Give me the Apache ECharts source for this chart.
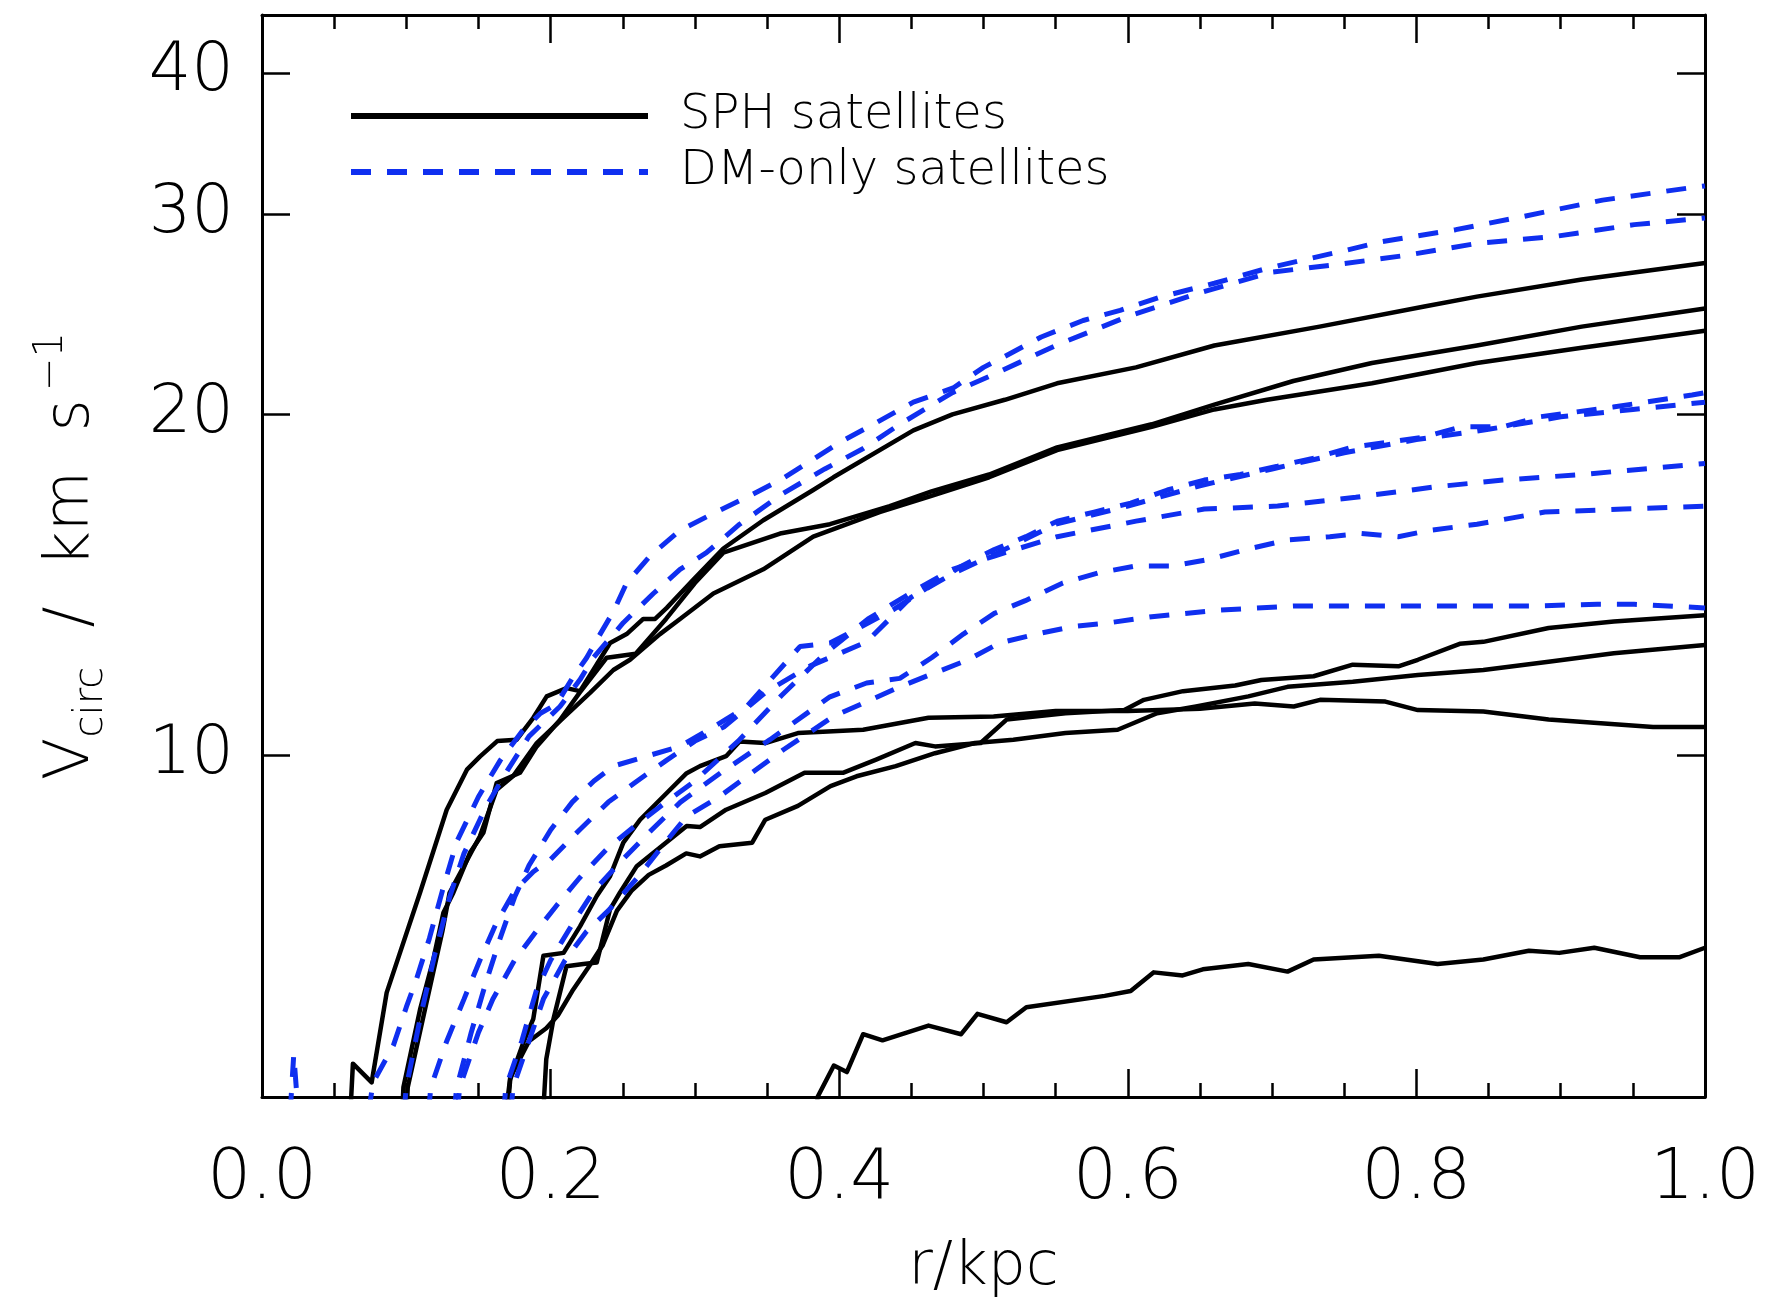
<!DOCTYPE html>
<html><head><meta charset="utf-8">
<script src="https://cdn.jsdelivr.net/npm/echarts@6/dist/echarts.min.js"></script>
<style>html,body{margin:0;padding:0;background:#fff}#c{width:1777px;height:1302px}</style>
</head><body><div id="c"></div>
<script>
// ---- data: [r (kpc), Vcirc (km/s)] ----
const xTickValues = [0, 0.2, 0.4, 0.6, 0.8, 1.0];
const yTickValues = [10, 20, 30, 40];
const legendNames = ['SPH satellites', 'DM-only satellites'];

const sph1 = [[0.060,4.5],[0.063,5.35],[0.076,5.15],[0.0864,6.18],[0.1095,7.57],[0.128,8.96],[0.142,9.72],[0.151,9.98],[0.163,10.3],[0.1765,10.33],[0.188,10.8],[0.1973,11.28],[0.211,11.47],[0.2204,11.4],[0.2296,11.9],[0.2412,12.57],[0.2527,12.8],[0.2642,13.2],[0.2724,13.2],[0.2805,13.5],[0.299,14.3],[0.3197,15.23],[0.3474,16.13],[0.382,17.15],[0.396,17.6],[0.4514,19.36],[0.4785,20.0],[0.5148,20.6],[0.551,21.3],[0.6057,22.0],[0.66,23.0],[0.7329,23.9],[0.8055,24.9],[0.8419,25.4],[0.9146,26.3],[1.0,27.2]];
const sph2 = [[0.096,4.5],[0.098,5.1],[0.1095,5.97],[0.1187,6.61],[0.1257,7.27],[0.1326,7.57],[0.1441,8.21],[0.1534,8.55],[0.1626,9.46],[0.1788,9.66],[0.1904,10.19],[0.2065,10.75],[0.22,11.36],[0.2389,12.2],[0.259,12.3],[0.28,13.2],[0.3,14.2],[0.3197,15.1],[0.359,15.7],[0.3936,16.0],[0.435,16.6],[0.464,17.1],[0.5039,17.7],[0.551,18.7],[0.6166,19.6],[0.66,20.4],[0.7147,21.4],[0.7692,22.2],[0.8419,23.0],[0.9146,23.9],[1.0,24.8]];
const sph3 = [[0.099,4.5],[0.101,5.1],[0.112,5.9],[0.125,7.0],[0.13,7.57],[0.151,8.49],[0.1626,9.33],[0.1742,9.6],[0.1904,10.26],[0.2088,10.8],[0.2273,11.36],[0.2435,11.9],[0.255,12.15],[0.2758,12.8],[0.2897,13.2],[0.3128,13.9],[0.3474,14.6],[0.382,15.6],[0.428,16.4],[0.464,16.95],[0.5039,17.6],[0.551,18.6],[0.6166,19.5],[0.66,20.2],[0.6965,20.6],[0.7692,21.3],[0.8419,22.2],[0.9146,22.9],[1.0,23.7]];
const sph4 = [[0.168,4.5],[0.172,5.18],[0.181,5.58],[0.188,5.86],[0.195,6.66],[0.209,6.7],[0.2204,7.07],[0.232,7.52],[0.2412,7.83],[0.2504,8.38],[0.262,8.78],[0.2805,9.27],[0.2943,9.65],[0.3035,9.79],[0.3216,9.99],[0.331,10.29],[0.3488,10.26],[0.3714,10.47],[0.4166,10.54],[0.4619,10.8],[0.507,10.83],[0.55,10.95],[0.6,10.95],[0.65,11.0],[0.688,11.12],[0.715,11.05],[0.7332,11.2],[0.7785,11.16],[0.801,10.97],[0.8464,10.94],[0.8916,10.76],[0.964,10.6],[1.0,10.6]];
const sph5 = [[0.194,4.5],[0.1955,5.0],[0.197,5.4],[0.202,5.86],[0.211,6.52],[0.2227,6.55],[0.232,6.57],[0.2412,7.32],[0.248,7.57],[0.2597,7.99],[0.2943,8.67],[0.3035,8.65],[0.3216,8.96],[0.3488,9.27],[0.376,9.66],[0.403,9.66],[0.4256,9.92],[0.4528,10.26],[0.4664,10.19],[0.498,10.26],[0.516,10.76],[0.5568,10.9],[0.5976,10.97],[0.6112,11.2],[0.6383,11.4],[0.6744,11.53],[0.6926,11.66],[0.7288,11.75],[0.7559,12.03],[0.7875,11.99],[0.801,12.15],[0.83,12.55],[0.8464,12.6],[0.8916,12.96],[0.9368,13.13],[1.0,13.3]];
const sph6 = [[0.166,4.5],[0.172,5.2],[0.185,5.6],[0.197,5.75],[0.205,5.9],[0.215,6.2],[0.226,6.5],[0.236,6.8],[0.246,7.3],[0.256,7.6],[0.268,7.85],[0.28,8.0],[0.294,8.2],[0.3035,8.15],[0.317,8.32],[0.3397,8.38],[0.3488,8.78],[0.3714,9.03],[0.394,9.4],[0.412,9.59],[0.4392,9.79],[0.4664,10.05],[0.494,10.26],[0.5207,10.33],[0.5568,10.47],[0.593,10.54],[0.6203,10.9],[0.6473,11.05],[0.6835,11.28],[0.7107,11.5],[0.7559,11.62],[0.801,11.78],[0.8464,11.9],[0.8916,12.1],[0.9368,12.31],[1.0,12.52]];
const sph7 = [[0.383,4.5],[0.385,5.0],[0.3963,5.33],[0.4053,5.26],[0.4166,5.68],[0.430,5.61],[0.4619,5.78],[0.4845,5.68],[0.4958,5.92],[0.516,5.82],[0.5297,6.0],[0.584,6.14],[0.602,6.2],[0.618,6.44],[0.638,6.4],[0.652,6.48],[0.6835,6.55],[0.7107,6.45],[0.7288,6.61],[0.774,6.66],[0.8147,6.55],[0.8464,6.61],[0.878,6.73],[0.899,6.7],[0.9233,6.77],[0.955,6.64],[0.982,6.64],[1.0,6.77]];

const dm1 = [[0.018,4.5],[0.022,5.45],[0.027,4.5],[0.07,4.5],[0.077,5.15],[0.091,5.55],[0.1,6.0],[0.107,6.35],[0.116,6.9],[0.125,7.6],[0.135,8.4],[0.15,9.2],[0.165,9.9],[0.18,10.5],[0.193,10.9],[0.204,11.1],[0.215,11.7],[0.225,12.2],[0.232,12.65],[0.2435,13.4],[0.2527,14.2],[0.2689,15.0],[0.2897,15.8],[0.3105,16.3],[0.3359,16.9],[0.359,17.5],[0.3775,18.1],[0.4006,18.9],[0.4236,19.6],[0.4514,20.5],[0.479,21.1],[0.5,22.0],[0.5148,22.5],[0.54,23.4],[0.569,24.2],[0.5947,24.7],[0.6237,25.4],[0.66,26.1],[0.6965,26.9],[0.718,27.3],[0.751,27.9],[0.776,28.4],[0.8273,29.1],[0.8746,29.9],[0.929,30.9],[0.991,31.7],[1.0,31.8]];
const dm2 = [[0.096,4.5],[0.1,5.1],[0.11,5.9],[0.12,6.7],[0.13,7.5],[0.14,8.2],[0.155,9.0],[0.17,9.7],[0.185,10.4],[0.2065,11.05],[0.2204,11.67],[0.2296,12.2],[0.2504,13.1],[0.2712,13.9],[0.2897,14.6],[0.308,15.1],[0.331,16.0],[0.36,17.0],[0.39,17.9],[0.4167,18.66],[0.442,19.6],[0.4785,20.9],[0.5075,21.7],[0.55,23.0],[0.6,24.4],[0.65,25.6],[0.7,26.7],[0.7437,27.1],[0.791,27.6],[0.842,28.3],[0.896,28.7],[0.951,29.4],[1.0,29.8]];
const dm3 = [[0.13,4.5],[0.135,5.1],[0.145,5.7],[0.155,6.3],[0.165,6.9],[0.175,7.5],[0.185,8.0],[0.2,8.6],[0.215,9.1],[0.23,9.5],[0.2435,9.79],[0.2666,9.99],[0.2897,10.19],[0.3128,10.6],[0.3359,11.05],[0.3728,12.48],[0.3936,12.57],[0.4375,13.45],[0.4837,14.67],[0.5075,15.2],[0.5294,15.6],[0.5511,16.1],[0.5766,16.4],[0.602,16.7],[0.6274,17.15],[0.653,17.5],[0.678,17.7],[0.7038,18.0],[0.729,18.3],[0.7547,18.7],[0.78,18.9],[0.8055,19.1],[0.831,19.5],[0.86,19.5],[0.8855,19.9],[0.9364,20.3],[0.991,20.8],[1.0,20.9]];
const dm4 = [[0.113,4.5],[0.117,5.1],[0.128,5.6],[0.14,6.1],[0.151,6.6],[0.162,7.1],[0.175,7.6],[0.188,7.9],[0.2,8.1],[0.22,8.6],[0.24,9.1],[0.26,9.5],[0.28,9.9],[0.3,10.3],[0.32,10.6],[0.35,11.4],[0.38,12.0],[0.419,12.6],[0.45,13.8],[0.48,14.5],[0.51,15.1],[0.55,16.0],[0.6,16.6],[0.65,17.3],[0.7,17.9],[0.75,18.5],[0.8,19.0],[0.85,19.4],[0.9,19.9],[0.95,20.2],[1.0,20.5]];
const dm5 = [[0.133,4.5],[0.137,5.1],[0.15,5.7],[0.16,6.1],[0.175,6.6],[0.19,7.0],[0.205,7.4],[0.22,7.8],[0.24,8.3],[0.26,8.7],[0.28,9.1],[0.3,9.5],[0.33,10.3],[0.36,11.3],[0.39,12.3],[0.42,13.2],[0.453,14.0],[0.4785,14.6],[0.5075,15.0],[0.5511,15.6],[0.6057,16.1],[0.653,16.5],[0.7038,16.6],[0.758,16.9],[0.8128,17.26],[0.86,17.5],[0.9146,17.7],[1.0,18.1]];
const dm6 = [[0.165,4.5],[0.169,5.1],[0.18,5.6],[0.19,6.2],[0.2,6.6],[0.215,7.1],[0.23,7.6],[0.25,8.1],[0.27,8.6],[0.29,9.1],[0.32,9.7],[0.352,10.33],[0.3936,11.27],[0.419,11.59],[0.442,11.7],[0.464,12.2],[0.486,12.8],[0.5075,13.35],[0.529,13.7],[0.555,14.2],[0.58,14.5],[0.6057,14.7],[0.631,14.7],[0.6566,14.9],[0.682,15.2],[0.711,15.5],[0.74,15.6],[0.762,15.7],[0.7874,15.6],[0.809,15.8],[0.842,16.0],[0.889,16.4],[0.9436,16.5],[1.0,16.6]];
const dm7 = [[0.17,4.5],[0.174,5.1],[0.185,5.6],[0.195,6.1],[0.21,6.6],[0.225,7.0],[0.24,7.3],[0.26,7.8],[0.28,8.4],[0.2943,8.84],[0.3174,9.21],[0.3613,10.12],[0.396,10.83],[0.442,11.5],[0.464,11.8],[0.4894,12.15],[0.511,12.57],[0.5366,12.8],[0.562,13.0],[0.5875,13.1],[0.6166,13.26],[0.664,13.44],[0.7147,13.55],[0.769,13.55],[0.8237,13.55],[0.878,13.55],[0.9254,13.6],[0.951,13.6],[1.0,13.5]];

const sphCurves = [sph1, sph2, sph3, sph4, sph5, sph6, sph7];
const dmCurves = [dm1, dm2, dm3, dm4, dm5, dm6, dm7];

// ---- styling ----
const FONT = 'DejaVu Sans';
const BLUE = '#0f2ff0';
const AXIS_W = 3;

const chart = echarts.init(document.getElementById('c'), null, {renderer: 'canvas'});

function xAxisCfg(pos, showLabel) {
  return {
    type: 'value', position: pos, min: 0, max: 1, interval: 0.2,
    axisLine: {show: true, onZero: false, lineStyle: {color: '#000', width: AXIS_W}},
    axisTick: {show: true, inside: true, length: 28, lineStyle: {color: '#000', width: 2.5}},
    minorTick: {show: true, splitNumber: 4, length: 14, lineStyle: {color: '#000', width: 2.5}},
    splitLine: {show: false}, minorSplitLine: {show: false},
    axisLabel: {show: showLabel, fontSize: 69, fontFamily: FONT, fontWeight: 200, color: '#000', margin: 49,
      formatter: v => v.toFixed(1)},
    name: showLabel ? 'r/kpc' : '', nameLocation: 'middle', nameGap: 141,
    nameTextStyle: {fontSize: 60, fontFamily: FONT, fontWeight: 200, color: '#000'}
  };
}
function yAxisCfg(pos, showLabel) {
  return {
    type: 'log', logBase: 10, position: pos, min: 5, max: 45,
    axisLine: {show: true, onZero: false, lineStyle: {color: '#000', width: AXIS_W}},
    axisTick: {show: true, inside: true, length: 28, customValues: yTickValues, lineStyle: {color: '#000', width: 2.5}},
    minorTick: {show: false}, splitLine: {show: false},
    axisLabel: {show: showLabel, customValues: yTickValues, fontSize: 67, fontFamily: FONT, fontWeight: 200, color: '#000', margin: 28},
    name: showLabel ? '{v|V}{s|circ}{t|  /  km  s}{p|−1}' : '',
    nameLocation: 'middle', nameGap: 150,
    nameTextStyle: {
      color: '#000', fontFamily: FONT, fontWeight: 200,
      rich: {
        v: {fontSize: 62, fontFamily: FONT, fontWeight: 200, color: '#000', lineHeight: 80, verticalAlign: 'middle'},
        t: {fontSize: 62, fontFamily: FONT, fontWeight: 200, color: '#000', lineHeight: 80, verticalAlign: 'middle'},
        s: {fontSize: 40, fontFamily: FONT, fontWeight: 200, color: '#000', lineHeight: 80, verticalAlign: 'bottom'},
        p: {fontSize: 40, fontFamily: FONT, fontWeight: 200, color: '#000', lineHeight: 80, verticalAlign: 'top', padding: [0, 0, 0, 8]}
      }
    }
  };
}

const series = [];
sphCurves.forEach(d => series.push({
  type: 'line', name: legendNames[0], data: d, xAxisIndex: 0, yAxisIndex: 0,
  symbol: 'none', showSymbol: false, clip: true, silent: true,
  lineStyle: {color: '#000', width: 4.5, join: 'round'}, itemStyle: {color: '#000'}
}));
dmCurves.forEach(d => series.push({
  type: 'line', name: legendNames[1], data: d, xAxisIndex: 0, yAxisIndex: 0,
  symbol: 'none', showSymbol: false, clip: true, silent: true,
  lineStyle: {color: BLUE, width: 5, type: [20, 16]}, itemStyle: {color: BLUE}
}));

chart.setOption({
  animation: false,
  backgroundColor: '#fff',
  grid: {left: 262, right: 72, top: 15, bottom: 205, containLabel: false, outerBoundsMode: 'none'},
  legend: {
    data: legendNames, orient: 'vertical', left: 343, top: 86,
    itemWidth: 297, itemHeight: 14, itemGap: 6, selectedMode: false,
    itemStyle: {opacity: 0},
    lineStyle: {width: 6},
    textStyle: {fontSize: 48, fontFamily: FONT, fontWeight: 200, color: '#000', lineHeight: 50, padding: [0, 0, 0, 27]}
  },
  xAxis: [xAxisCfg('bottom', true), xAxisCfg('top', false)],
  yAxis: [yAxisCfg('left', true), yAxisCfg('right', false)],
  series: series
});
</script>
</body></html>
